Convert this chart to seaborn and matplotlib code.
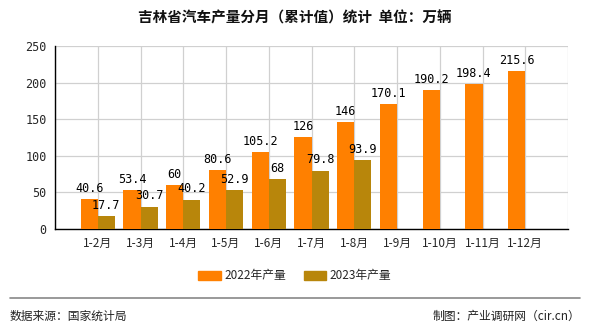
import matplotlib
matplotlib.use("Agg")
import matplotlib.pyplot as plt
from matplotlib.lines import Line2D
import numpy as np
import pandas as pd
import seaborn as sns

months = ["1-2月", "1-3月", "1-4月", "1-5月", "1-6月", "1-7月",
          "1-8月", "1-9月", "1-10月", "1-11月", "1-12月"]
prod_2022 = [40.6, 53.4, 60, 80.6, 105.2, 126, 146, 170.1, 190.2, 198.4, 215.6]
prod_2023 = [17.7, 30.7, 40.2, 52.9, 68, 79.8, 93.9]
series_names = ["2022年产量", "2023年产量"]
colors = ["#FF8000", "#B8860B"]

sns.set_theme(style="white")
plt.rcParams["font.family"] = ["Noto Sans CJK SC", "DejaVu Sans"]

pos = np.arange(1, len(months) + 1)
rows = []
for p, v in zip(pos, prod_2022):
    rows.append({"pos": p, "series": series_names[0], "value": v})
for p, v in zip(pos, prod_2023):
    rows.append({"pos": p, "series": series_names[1], "value": v})
df = pd.DataFrame(rows)

fig = plt.figure(figsize=(5.9, 3.3), dpi=100)
ax = fig.add_axes([55 / 590, 1 - 229 / 330, (568 - 55) / 590, (229 - 46) / 330])

sns.barplot(data=df, x="pos", y="value", hue="series", hue_order=series_names,
            palette=colors, native_scale=True, width=0.8, dodge=True,
            saturation=1, errorbar=None, ax=ax, legend=False, zorder=3,
            linewidth=0, edgecolor="none")

for cont in ax.containers:
    ax.bar_label(cont, fmt=lambda v: f"{v:g}", padding=3, fontsize=8.5,
                 family="DejaVu Sans Mono", color="#000000")

ax.set_xlim(0, len(months) + 1)
ax.set_ylim(0, 250)
ax.set_yticks(np.arange(0, 251, 50))
ax.set_xticks(np.arange(0, len(months) + 2))
ax.set_xticklabels([""] + months + [""], fontsize=8.5)
ax.tick_params(axis="y", labelsize=8.5, length=4, width=0.8, color="black", direction="out", pad=2)
ax.tick_params(axis="x", length=4, width=0.8, color="black", direction="out", pad=2)
for lab in ax.get_yticklabels():
    lab.set_family("DejaVu Sans Mono")
ax.set_xlabel("")
ax.set_ylabel("")
ax.grid(True, axis="both", color="#D0D0D0", linewidth=0.9, zorder=0)
ax.set_axisbelow(True)
for side in ["top", "right"]:
    ax.spines[side].set_visible(False)
for side in ["left", "bottom"]:
    ax.spines[side].set_color("black")
    ax.spines[side].set_linewidth(1.0)

fig.text(0.5, 1 - 18 / 330, "吉林省汽车产量分月（累计值）统计  单位：万辆",
         ha="center", va="center", fontsize=10.5, fontweight="bold", color="#111111")

handles = [plt.Rectangle((0, 0), 1, 1, color=c) for c in colors]
fig.legend(handles, series_names, loc="center", bbox_to_anchor=(0.5, 1 - 276 / 330),
           ncol=2, frameon=False, fontsize=8.5, handlelength=1.9, handleheight=0.75,
           columnspacing=1.5, handletextpad=0.3)

fig.add_artist(Line2D([10 / 590, 580 / 590], [1 - 298 / 330, 1 - 298 / 330],
                      color="#888888", linewidth=1.2))
fig.text(10 / 590, 1 - 316 / 330, "数据来源：国家统计局", ha="left", va="center",
         fontsize=8.5, color="#222222")
fig.text(580 / 590, 1 - 316 / 330, "制图：产业调研网（cir.cn）", ha="right", va="center",
         fontsize=8.5, color="#222222")

fig.savefig("out.png", dpi=100)
